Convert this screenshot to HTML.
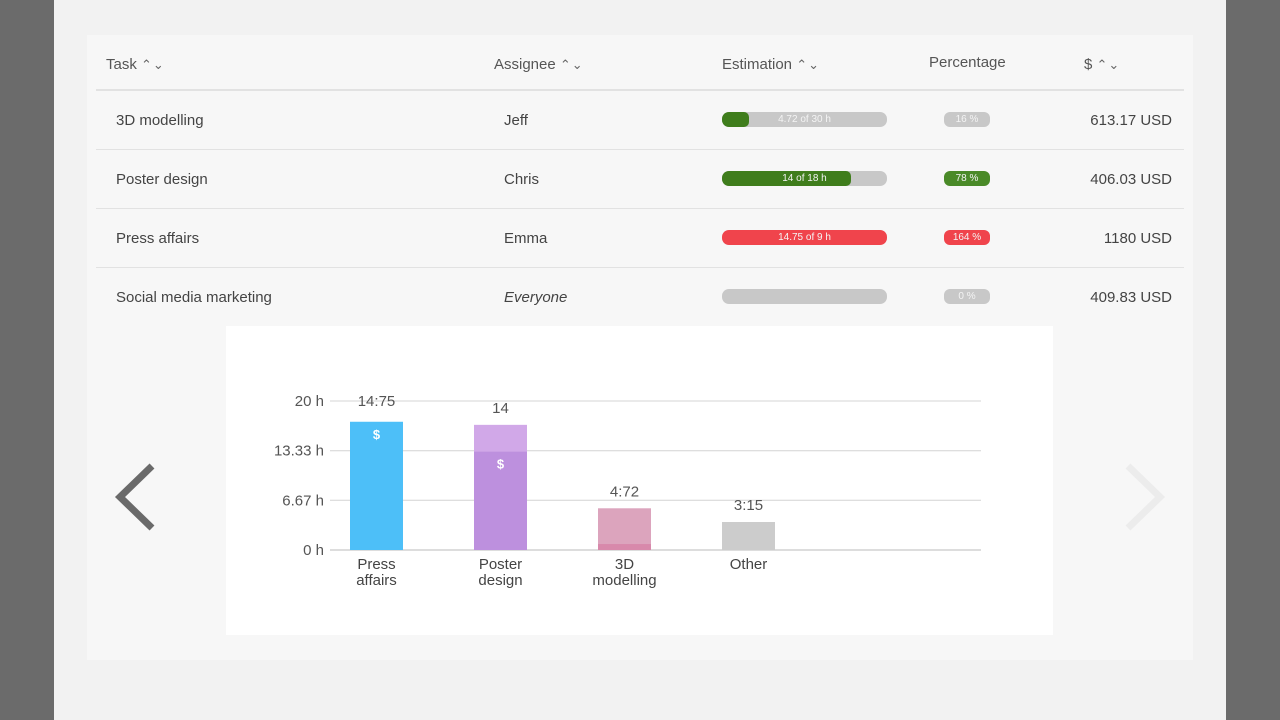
<!DOCTYPE html>
<html><head><meta charset="utf-8"><style>
body{margin:0;width:1280px;height:720px;background:#6b6b6b;position:relative;overflow:hidden;font-family:"Liberation Sans","DejaVu Sans",sans-serif;color:#444}
.abs{position:absolute}
#page{left:54px;top:0;width:1172px;height:720px;background:#f2f2f2}
#panel{left:87px;top:35px;width:1106px;height:625px;background:#f7f7f7}
.h{top:56px;font-size:15px;color:#555}
.sep{left:96px;width:1088px;height:1px;background:#e2e2e2}
.cell{font-size:15px;color:#444}
.bar{left:722px;width:165px;height:15px;border-radius:7px;background:#c8c8c8;overflow:hidden}
.fill{position:absolute;left:0;top:0;height:15px;border-radius:5px}
.bt{position:absolute;left:0;width:165px;top:0;line-height:15px;text-align:center;font-size:10px;color:#f4f4f4}
.badge{left:944px;width:46px;height:15px;border-radius:6px;background:#c8c8c8;color:#f4f4f4;font-size:10px;text-align:center;line-height:15px}
.usd{left:1060px;width:112px;text-align:right;font-size:15px;color:#444}
.arrow{font-size:13px;color:#666;letter-spacing:1px}
</style></head><body>
<div id="page" class="abs"></div>
<div id="panel" class="abs"></div>

<div class="abs h" style="left:106px">Task <span class="arrow">⌃⌄</span></div>
<div class="abs h" style="left:494px">Assignee <span class="arrow">⌃⌄</span></div>
<div class="abs h" style="left:722px">Estimation <span class="arrow">⌃⌄</span></div>
<div class="abs h" style="left:929px;top:54px">Percentage</div>
<div class="abs h" style="left:1084px">$ <span class="arrow">⌃⌄</span></div>
<div class="abs sep" style="top:89px;height:2px"></div>

<div class="abs cell" style="left:116px;top:112px">3D modelling</div>
<div class="abs cell" style="left:504px;top:112px">Jeff</div>
<div class="abs bar" style="top:112px"><div class="fill" style="width:27px;background:#3f7d1c"></div><div class="bt">4.72 of 30 h</div></div>
<div class="abs badge" style="top:112px">16 %</div>
<div class="abs usd" style="top:112px">613.17 USD</div>
<div class="abs sep" style="top:149px"></div>

<div class="abs cell" style="left:116px;top:171px">Poster design</div>
<div class="abs cell" style="left:504px;top:171px">Chris</div>
<div class="abs bar" style="top:171px"><div class="fill" style="width:129px;background:#3f7d1c"></div><div class="bt">14 of 18 h</div></div>
<div class="abs badge" style="top:171px;background:#4a8a28">78 %</div>
<div class="abs usd" style="top:171px">406.03 USD</div>
<div class="abs sep" style="top:208px"></div>

<div class="abs cell" style="left:116px;top:230px">Press affairs</div>
<div class="abs cell" style="left:504px;top:230px">Emma</div>
<div class="abs bar" style="top:230px;background:#f0444c"><div class="bt">14.75 of 9 h</div></div>
<div class="abs badge" style="top:230px;background:#f0444c">164 %</div>
<div class="abs usd" style="top:230px">1180 USD</div>
<div class="abs sep" style="top:267px"></div>

<div class="abs cell" style="left:116px;top:289px">Social media marketing</div>
<div class="abs cell" style="left:504px;top:289px;font-style:italic">Everyone</div>
<div class="abs bar" style="top:289px"></div>
<div class="abs badge" style="top:289px">0 %</div>
<div class="abs usd" style="top:289px">409.83 USD</div>

<div class="abs" style="left:226px;top:326px;width:827px;height:309px;background:#fff"></div>
<svg class="abs" style="left:0;top:0" width="1280" height="720" id="chart">
<polyline points="152,466 120,497 152,528" fill="none" stroke="#6a6a6a" stroke-width="7"/>
<polyline points="1128,466 1160,497 1128,528" fill="none" stroke="#ececec" stroke-width="7"/>
</svg>
<script>
const categories=[["Press","affairs"],["Poster","design"],["3D","modelling"],["Other"]];
const totalHours=[17.2,16.8,5.6,3.75];
const baseHours=[17.2,13.2,0.8,3.75];
const valueLabels=["14:75","14","4:72","3:15"];
const topColors=["#4dbff8","#d1a8e8","#dca4bd","#cccccc"];
const baseColors=["#4dbff8","#bd90de","#d889ab","#cccccc"];
const dollar=[true,true,false,false];
const yTicks=[0,6.67,13.33,20];
const yTickLabels=["0 h","6.67 h","13.33 h","20 h"];
const NS="http://www.w3.org/2000/svg";
const svg=document.getElementById('chart');
const y0=550,ppu=149/20,x0=350,step=124,bw=53;
const y=v=>y0-v*ppu, x=i=>x0+i*step;
function mk(t,a,txt){const e=document.createElementNS(NS,t);for(const k in a)e.setAttribute(k,a[k]);if(txt!=null)e.textContent=txt;svg.appendChild(e);return e;}
yTicks.forEach((t,i)=>{
 const l=mk('line',{x1:330,x2:981,y1:y(t),y2:y(t),stroke:i==0?'#bbb':'#d4d4d4','stroke-width':1});
 
 
 const tx=mk('text',{x:324,y:y(t)+5,'text-anchor':'end','font-size':15,fill:'#555','font-family':'Liberation Sans'},yTickLabels[i]);
 
 
});
categories.forEach((c,i)=>{
 const r1=mk('rect',{x:x(i),y:y(totalHours[i]),width:bw,height:y0-y(totalHours[i]),fill:topColors[i]});
 
 
 const r2=mk('rect',{x:x(i),y:y(baseHours[i]),width:bw,height:y0-y(baseHours[i]),fill:baseColors[i]});
 
 
 const vl=mk('text',{x:x(i)+bw/2,y:i==0?406:y(totalHours[i])-12,'text-anchor':'middle','font-size':15,fill:'#555','font-family':'Liberation Sans'},valueLabels[i]);
 
 
 if(dollar[i]){const d=mk('text',{x:x(i)+bw/2,y:y(baseHours[i])+17,'text-anchor':'middle','font-size':13,'font-weight':'bold',fill:'#fff','font-family':'Liberation Sans'},'$');
  
  }
 c.forEach((w,j)=>{const t=mk('text',{x:x(i)+bw/2,y:569+j*16,'text-anchor':'middle','font-size':15,fill:'#444','font-family':'Liberation Sans'},w);
  
  });
});
</script>
</body></html>
